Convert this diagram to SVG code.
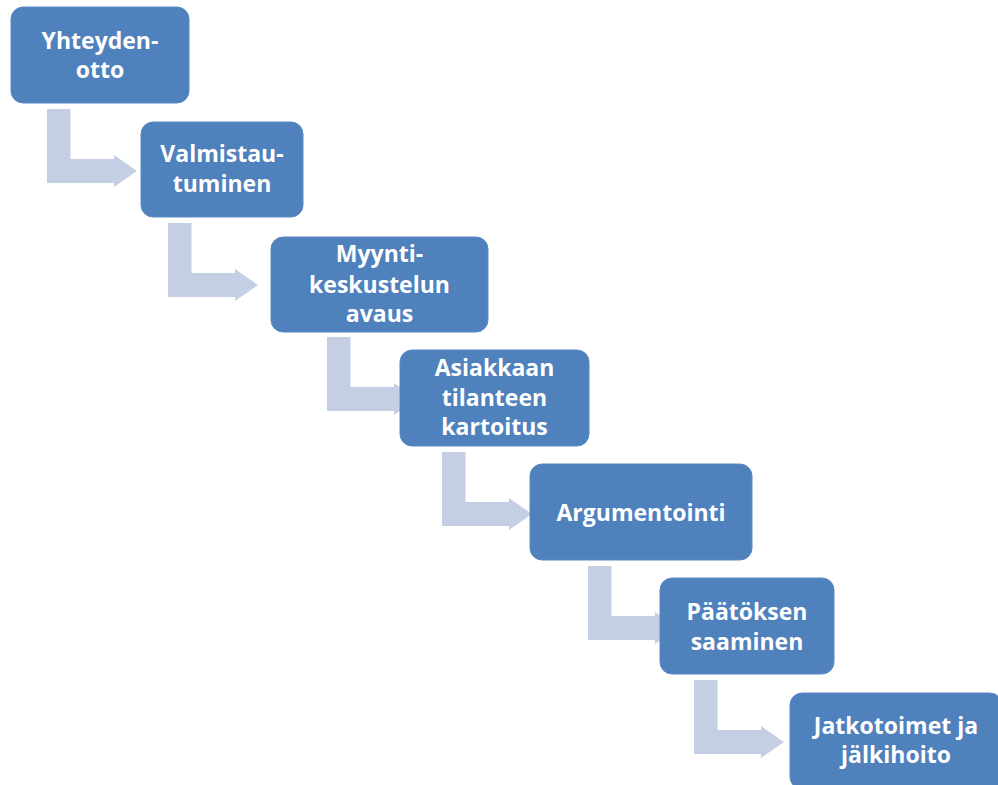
<svg xmlns="http://www.w3.org/2000/svg" width="998" height="785" viewBox="0 0 998 785">
<style>
.box{fill:#4F81BD;stroke:#5A8AC4;stroke-width:1}
.arr{fill:#C5CFE3}
.t{font-family:"Open Sans","Noto Sans","Liberation Sans",sans-serif;font-weight:700;font-size:23px;fill:#FFFFFF;text-anchor:middle}
</style>
<defs>
<path id="elbow" d="M0,0 H23.5 V50 H67 V46 L90,62 L67,78 V74 H0 Z"/>
</defs>
<rect width="998" height="785" fill="#FFFFFF"/>
<g id="connectors">
<use href="#elbow" class="arr" x="47" y="109"/>
<use href="#elbow" class="arr" x="168" y="223"/>
<use href="#elbow" class="arr" x="327" y="337"/>
<use href="#elbow" class="arr" x="442" y="452"/>
<use href="#elbow" class="arr" x="588" y="566"/>
<use href="#elbow" class="arr" x="694" y="680"/>
</g>
<g id="n1">
<rect class="box" x="11" y="7" width="178" height="96" rx="12"/>
<text class="t" x="100" y="49">Yhteyden-</text>
<text class="t" x="100" y="78">otto</text>
</g>
<g id="n2">
<rect class="box" x="141" y="122" width="162" height="95" rx="12"/>
<text class="t" x="222" y="162">Valmistau-</text>
<text class="t" x="222" y="192">tuminen</text>
</g>
<g id="n3">
<rect class="box" x="271" y="237" width="217" height="95" rx="12"/>
<text class="t" x="379.5" y="262">Myynti-</text>
<text class="t" x="379.5" y="292.5">keskustelun</text>
<text class="t" x="379.5" y="322">avaus</text>
</g>
<g id="n4">
<rect class="box" x="400" y="350" width="189" height="96" rx="12"/>
<text class="t" x="494.5" y="376">Asiakkaan</text>
<text class="t" x="494.5" y="406">tilanteen</text>
<text class="t" x="494.5" y="435">kartoitus</text>
</g>
<g id="n5">
<rect class="box" x="530" y="464" width="222" height="96" rx="12"/>
<text class="t" x="641" y="521">Argumentointi</text>
</g>
<g id="n6">
<rect class="box" x="660" y="578" width="174" height="96" rx="12"/>
<text class="t" x="747" y="619.5">Päätöksen</text>
<text class="t" x="747" y="650">saaminen</text>
</g>
<g id="n7">
<rect class="box" x="790" y="693" width="212" height="96" rx="12"/>
<text class="t" x="896" y="733.5">Jatkotoimet ja</text>
<text class="t" x="896" y="763">jälkihoito</text>
</g>
</svg>
